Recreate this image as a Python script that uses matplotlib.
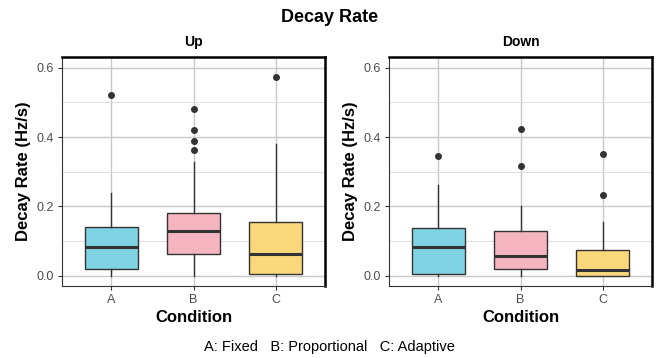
import numpy as np
import matplotlib.pyplot as plt
from matplotlib.ticker import MultipleLocator

plt.rcParams['font.family'] = ['Liberation Sans', 'DejaVu Sans']

# condiciones y colores
conds = ["A", "B", "C"]
colores = ["#7fd3e3", "#f5b5c0", "#f9d77b"]

# resumen de cajas: whislo, q1, mediana, q3, whishi, outliers
up_lo = [0.0, 0.0, 0.0]
up_q1 = [0.018, 0.063, 0.004]
up_med = [0.082, 0.128, 0.063]
up_q3 = [0.141, 0.181, 0.155]
up_hi = [0.239, 0.327, 0.379]
up_out = [[0.521], [0.363, 0.388, 0.420, 0.481], [0.573]]

down_lo = [0.0, 0.0, 0.0]
down_q1 = [0.006, 0.019, 0.0]
down_med = [0.083, 0.058, 0.017]
down_q3 = [0.137, 0.129, 0.073]
down_hi = [0.262, 0.202, 0.155]
down_out = [[0.345], [0.316, 0.422], [0.232, 0.351]]

paneles = [
    ("Up", up_lo, up_q1, up_med, up_q3, up_hi, up_out),
    ("Down", down_lo, down_q1, down_med, down_q3, down_hi, down_out),
]

fig = plt.figure(figsize=(6.59, 3.58), dpi=100)
posiciones = [[0.0941, 0.2011, 0.3991, 0.6397], [0.5903, 0.2011, 0.3991, 0.6397]]

for pos, (nombre, lo, q1, med, q3, hi, out) in zip(posiciones, paneles):
    ax = fig.add_axes(pos)
    stats = []
    for i in range(3):
        stats.append(dict(whislo=lo[i], q1=q1[i], med=med[i], q3=q3[i],
                          whishi=hi[i], fliers=out[i]))
    bp = ax.bxp(stats, positions=[1, 2, 3], widths=0.65, patch_artist=True,
                showcaps=False,
                boxprops=dict(edgecolor="#333333", linewidth=1.0),
                medianprops=dict(color="#333333", linewidth=2.2),
                whiskerprops=dict(color="#333333", linewidth=1.0),
                flierprops=dict(marker="o", markerfacecolor="#333333",
                                markeredgecolor="#333333", markersize=4))
    for caja, c in zip(bp["boxes"], colores):
        caja.set_facecolor(c)
        caja.set_zorder(3)
    for k in ["whiskers", "medians", "fliers"]:
        for a in bp[k]:
            a.set_zorder(4)

    ax.set_xlim(0.4, 3.6)
    ax.set_ylim(-0.03, 0.631)
    ax.set_xticks([1, 2, 3])
    ax.set_xticklabels(conds)
    ax.yaxis.set_major_locator(MultipleLocator(0.2))
    ax.yaxis.set_minor_locator(MultipleLocator(0.1))
    ax.set_yticks([0.0, 0.2, 0.4, 0.6])
    ax.set_yticklabels(["0.0", "0.2", "0.4", "0.6"])
    ax.grid(which="major", color="#c8c8c8", linewidth=1.0, zorder=0)
    ax.grid(which="minor", axis="y", color="#dedede", linewidth=0.7, zorder=0)
    ax.set_axisbelow(True)
    ax.tick_params(axis="both", which="major", labelsize=9, labelcolor="#4d4d4d",
                   color="#333333", length=3, width=0.8, pad=2.5)
    ax.tick_params(axis="y", which="minor", length=0)

    for s in ["top", "right"]:
        ax.spines[s].set_color("black")
        ax.spines[s].set_linewidth(1.8)
    for s in ["left", "bottom"]:
        ax.spines[s].set_color("#333333")
        ax.spines[s].set_linewidth(0.8)

    ax.set_title(nombre, fontsize=10, fontweight="bold", pad=8)
    ax.set_xlabel("Condition", fontsize=12, fontweight="bold", labelpad=3)
    ax.set_ylabel("Decay Rate (Hz/s)", fontsize=12, fontweight="bold", labelpad=4)

fig.suptitle("Decay Rate", fontsize=13, fontweight="bold", y=0.975)
fig.text(0.5, 0.03, "A: Fixed   B: Proportional   C: Adaptive", ha="center",
         va="center", fontsize=10.5)

plt.savefig("out.png", dpi=100)
